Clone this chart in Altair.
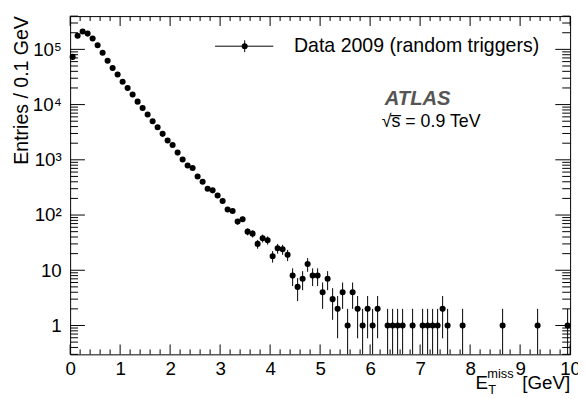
import altair as alt
import pandas as pd
import numpy as np

# ---- data ----
met_gev = [0.05, 0.15, 0.25, 0.35, 0.45, 0.55, 0.65, 0.75, 0.85, 0.95,
           1.05, 1.15, 1.25, 1.35, 1.45, 1.55, 1.65, 1.75, 1.85, 1.95,
           2.05, 2.15, 2.25, 2.35, 2.45, 2.55, 2.65, 2.75, 2.85, 2.95,
           3.05, 3.15, 3.25, 3.35, 3.45, 3.55, 3.65, 3.75, 3.85, 3.95,
           4.05, 4.15, 4.25, 4.35, 4.45, 4.55, 4.65, 4.75, 4.85, 4.95,
           5.05, 5.15, 5.25, 5.35, 5.45, 5.55, 5.65, 5.75, 5.85, 5.95,
           6.05, 6.15, 6.35, 6.45, 6.55, 6.65, 6.85, 7.05, 7.15, 7.25,
           7.35, 7.45, 7.55, 7.85, 8.65, 9.35, 9.95]
entries = [73000, 176000, 210000, 193000, 157000, 119000, 87000, 62000, 46000, 35000,
           26000, 20000, 15200, 11300, 8700, 6600, 5000, 3900, 2950, 2240,
           1850, 1350, 1010, 790, 710, 500, 400, 300, 280, 226,
           180, 126, 118, 76, 84, 50, 46, 30, 38, 35,
           18, 25, 24, 19, 8, 5, 7, 13, 8, 8,
           4, 7, 3, 2, 4, 1, 4, 2, 1, 2,
           1, 2, 1, 1, 1, 1, 1, 1, 1, 1,
           1, 2, 1, 1, 1, 1, 1]

x_ticks = [0, 1, 2, 3, 4, 5, 6, 7, 8, 9, 10]
y_ticks = [1, 10, 100, 1000, 10000, 100000]
y_tick_labels = ["1", "10", "10²", "10³", "10⁴", "10⁵"]

legend_label = "Data 2009 (random triggers)"
experiment = "ATLAS"
energy_label = "√s̅ = 0.9 TeV"
y_title = "Entries / 0.1 GeV"

# ---- geometry / style ----
W, H = 507, 343
Y_MIN, Y_MAX = 0.3, 4.0e5
FONT = "Liberation Sans"
FS = 19
DOT = 38

df = pd.DataFrame({"x": met_gev, "y": entries})
err = np.sqrt(df["y"])
df["lo"] = np.maximum(df["y"] - err, Y_MIN)
df["hi"] = df["y"] + err

xs = alt.Scale(domain=[0, 10], nice=False, zero=False)
ys = alt.Scale(type="log", domain=[Y_MIN, Y_MAX], nice=False)

label_expr = " : ".join(
    f"datum.value == {v} ? '{l}'" for v, l in zip(y_ticks, y_tick_labels)
) + " : ''"

base = alt.Chart(df)

errbars = base.mark_rule(color="black", strokeWidth=1).encode(
    x=alt.X("x:Q", scale=xs,
            axis=alt.Axis(values=x_ticks, ticks=False, domain=False, grid=False,
                          labelFontSize=FS, labelFont=FONT, labelColor="black",
                          labelPadding=5, title=None, labelFlush=False)),
    y=alt.Y("lo:Q", scale=ys,
            axis=alt.Axis(values=y_ticks, ticks=False, domain=False, grid=False,
                          labelExpr=label_expr, labelFontSize=FS, labelFont=FONT,
                          labelColor="black", labelPadding=9, title=None,
                          labelFlush=False)),
    y2="hi:Q",
)

points = base.mark_circle(color="black", opacity=1, size=DOT).encode(
    x=alt.X("x:Q", scale=xs),
    y=alt.Y("y:Q", scale=ys),
)

# inside ticks (ROOT style), computed from tick values
x_major = pd.DataFrame({"v": x_ticks})
x_minor = pd.DataFrame({"v": [i / 5 for i in range(51) if i % 5 != 0]})
y_major = pd.DataFrame({"v": y_ticks})
y_minor_vals = []
for d in [0.1, 1, 10, 100, 1000, 10000, 100000]:
    for m in range(2, 10):
        v = m * d
        if Y_MIN <= v <= Y_MAX:
            y_minor_vals.append(v)
y_minor = pd.DataFrame({"v": y_minor_vals})

def xtick(data, length):
    b = alt.Chart(data).mark_rule(color="black", strokeWidth=1)
    bot = b.encode(x=alt.X("v:Q", scale=xs), y=alt.value(H), y2=alt.value(H - length))
    top = b.encode(x=alt.X("v:Q", scale=xs), y=alt.value(0), y2=alt.value(length))
    return [bot, top]

def ytick(data, length):
    b = alt.Chart(data).mark_rule(color="black", strokeWidth=1)
    left = b.encode(y=alt.Y("v:Q", scale=ys), x=alt.value(0), x2=alt.value(length))
    right = b.encode(y=alt.Y("v:Q", scale=ys), x=alt.value(W), x2=alt.value(W - length))
    return [left, right]

ticks = xtick(x_major, 10) + xtick(x_minor, 5) + ytick(y_major, 15) + ytick(y_minor, 8)

one = pd.DataFrame({"a": [0]})

def txt(text, x, y, size=FS, align="left", baseline="alphabetic", **kw):
    return alt.Chart(one).mark_text(text=text, font=FONT, fontSize=size, align=align,
                                    baseline=baseline, color=kw.pop("color", "black"),
                                    **kw).encode(x=alt.value(x), y=alt.value(y))

# legend
leg_line = alt.Chart(one).mark_rule(color="black", strokeWidth=1).encode(
    x=alt.value(147), x2=alt.value(206), y=alt.value(30.5))
leg_bar = alt.Chart(one).mark_rule(color="black", strokeWidth=1).encode(
    x=alt.value(177), y=alt.value(24.5), y2=alt.value(36.5))
leg_pt = alt.Chart(one).mark_circle(color="black", opacity=1, size=DOT).encode(
    x=alt.value(177), y=alt.value(30.5))
leg_txt = txt(legend_label, 227, 30.5, size=19.8, baseline="middle")

atlas = txt(experiment, 319, 84, size=20.5, baseline="middle", fontStyle="italic",
            fontWeight="bold", color="#555555")
energy = txt(energy_label, 316, 107, size=18, baseline="middle")

ytitle = txt(y_title, -49, 0, size=19.8, align="right", baseline="middle", angle=270)

xt_E = txt("E", 411, 378.5)
xt_T = txt("T", 424, 383.5, size=13)
xt_miss = txt("miss", 423, 366.5, size=13)
xt_gev = txt("[GeV]", 507, 378.5, align="right")

chart = alt.layer(
    errbars, points, *ticks, leg_line, leg_bar, leg_pt, leg_txt, atlas, energy,
    ytitle, xt_E, xt_T, xt_miss, xt_gev
).properties(
    width=W, height=H,
    padding={"left": 63, "top": 5.5, "right": 8, "bottom": 40},
    autosize=alt.AutoSizeParams(type="none"),
    background="white",
).configure_view(stroke="black", strokeWidth=1)

chart.save("out.html", embed_options={"renderer": "svg", "actions": False})
